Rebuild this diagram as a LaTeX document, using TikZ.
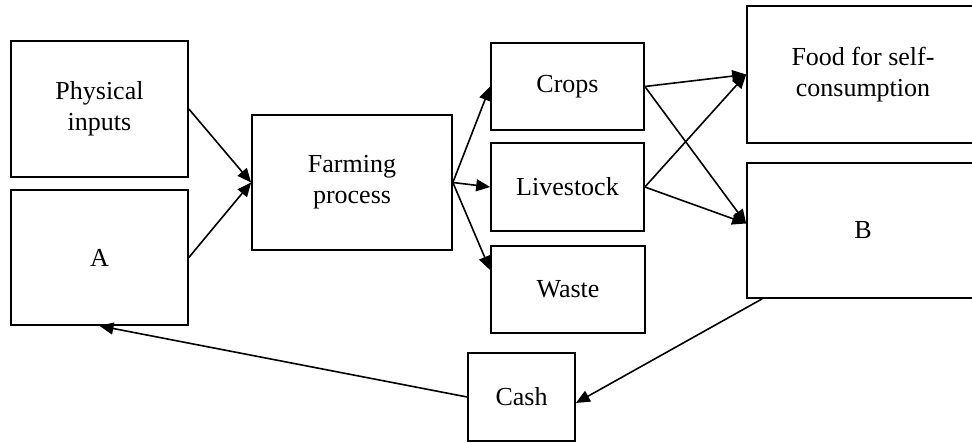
\documentclass[tikz,border=0pt]{standalone}
\usepackage{fontspec}
\setmainfont{Liberation Serif}
\usetikzlibrary{arrows.meta,calc}
\begin{document}
\begin{tikzpicture}[x=1pt,y=-1pt,
  box/.style={draw,line width=1.7pt,rectangle,inner sep=0pt,align=center,
    font=\fontsize{26}{31}\selectfont},
  conn/.style={line width=1.6pt,-{Triangle[length=14pt,width=12pt]}}]
\useasboundingbox[fill=white] (0,0) rectangle (972,443);
\node[box,minimum width=177pt,minimum height=136pt] (phys) at (99.5,109) {Physical\\inputs};
\node[box,minimum width=177pt,minimum height=135pt] (A) at (99.5,257.5) {A};
\node[box,minimum width=200pt,minimum height=135pt] (farm) at (352,182.5) {Farming\\process};
\node[box,minimum width=153pt,minimum height=87pt] (crops) at (567.5,86.5) {Crops};
\node[box,minimum width=153pt,minimum height=88pt] (live) at (567.5,187) {Livestock};
\node[box,minimum width=154pt,minimum height=87pt] (waste) at (568,289.5) {Waste};
\node[box,minimum width=232pt,minimum height=137pt] (food) at (863,74.5) {Food for self-\\consumption};
\node[box,minimum width=232pt,minimum height=135pt] (B) at (863,230.5) {B};
\node[box,minimum width=107pt,minimum height=88pt] (cash) at (521.5,397) {Cash};
\draw[conn] (phys.east) -- (farm.west);
\draw[conn] (A.east) -- (farm.west);
\draw[conn] (farm.east) -- (crops.west);
\draw[conn] (farm.east) -- (live.west);
\draw[conn] (farm.east) -- (waste.166);
\draw[conn] (crops.east) -- (food.west);
\draw[conn] (crops.east) -- ([yshift=7pt]B.west);
\draw[conn] (live.east) -- (food.west);
\draw[conn] (live.east) -- ([yshift=7pt]B.west);
\draw[conn] ([xshift=16pt]B.south west) -- ([yshift=-6pt]cash.east);
\draw[conn] (cash.west) -- (A.south);
\end{tikzpicture}
\end{document}
